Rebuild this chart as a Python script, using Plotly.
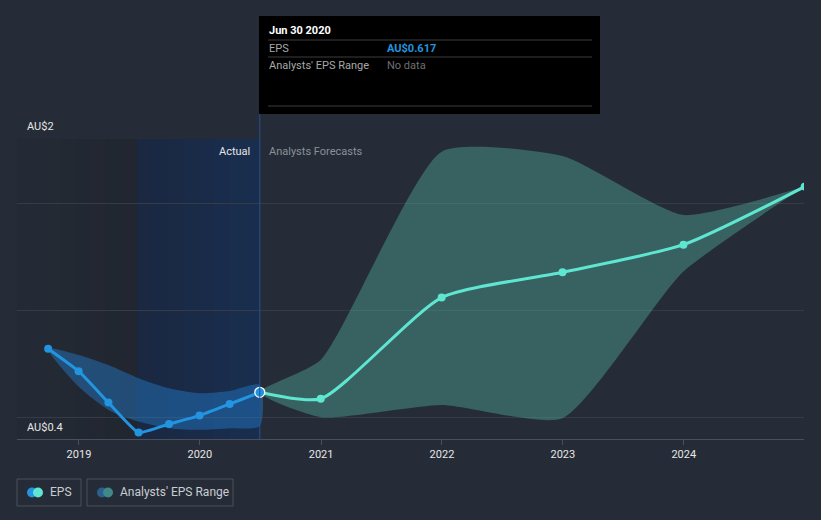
import plotly.graph_objects as go
import pandas as pd

# ---------------- data ----------------
hist_dates = ["2018-09-30", "2018-12-31", "2019-03-31", "2019-06-30",
              "2019-09-30", "2019-12-31", "2020-03-31", "2020-06-30"]
hist_eps = [0.855, 0.732, 0.561, 0.397, 0.444, 0.490, 0.553, 0.617]
hist_range_hi = [0.855, 0.821, 0.766, 0.694, 0.639, 0.612, 0.624, 0.657]
hist_range_lo = [0.855, 0.648, 0.521, 0.457, 0.421, 0.412, 0.421, 0.433]

fc_dates = ["2020-06-30", "2020-12-31", "2021-12-31", "2022-12-31",
            "2023-12-31", "2024-12-31"]
fc_eps = [0.617, 0.582, 1.134, 1.272, 1.423, 1.740]
fc_hi = [0.617, 0.794, 1.931, 1.907, 1.585, 1.740]
fc_lo = [0.617, 0.481, 0.548, 0.475, 1.276, 1.740]

x_ticks = ["2019-01-01", "2020-01-01", "2021-01-01", "2022-01-01",
           "2023-01-01", "2024-01-01"]
x_tick_labels = ["2019", "2020", "2021", "2022", "2023", "2024"]
grid_vals = [0.481, 1.063, 1.647, 2.0]
y_labels = ["AU$2", "AU$0.4"]

# ---------------- layout geometry ----------------
W, H = 821, 520
L, R, T, B = 17, 17, 139, 81
PW, PH = W - L - R, H - T - B
X_START, X_END = "2018-06-28", "2024-12-29"
Y_MIN, Y_MAX = 0.362, 2.0

BG = "#262c37"
BLUE = "#2394df"
MINT = "#5fe6d1"


def px(x):
    return (x - L) / PW


def py(y):
    return (H - B - y) / PH


fig = go.Figure()

# historical range band
fig.add_trace(go.Scatter(
    x=hist_dates + hist_dates[::-1],
    y=hist_range_hi + hist_range_lo[::-1],
    fill="toself", fillcolor="rgba(35,125,205,0.45)",
    line=dict(width=0, shape="spline", smoothing=0.7),
    mode="lines", hoverinfo="skip", showlegend=False))

# forecast range band
fig.add_trace(go.Scatter(
    x=fc_dates + fc_dates[::-1],
    y=fc_hi + fc_lo[::-1],
    fill="toself", fillcolor="rgba(88,190,175,0.36)",
    line=dict(width=0, shape="spline", smoothing=0.55),
    mode="lines", hoverinfo="skip", showlegend=False))

# forecast EPS line
fig.add_trace(go.Scatter(
    x=fc_dates, y=fc_eps, mode="lines+markers",
    line=dict(color=MINT, width=3, shape="spline", smoothing=0.6),
    marker=dict(color=MINT, size=8),
    showlegend=False))

# historical EPS line
fig.add_trace(go.Scatter(
    x=hist_dates, y=hist_eps, mode="lines+markers",
    line=dict(color=BLUE, width=3, shape="spline", smoothing=0.4),
    marker=dict(color=BLUE, size=8),
    showlegend=False))

# highlighted last actual point
fig.add_trace(go.Scatter(
    x=[hist_dates[-1]], y=[hist_eps[-1]], mode="markers",
    marker=dict(color=BLUE, size=10, line=dict(color="#ffffff", width=1.3)),
    showlegend=False))

shapes = []
d0 = pd.Timestamp(X_START)
d1 = pd.Timestamp("2019-06-25")
d2 = pd.Timestamp("2020-06-30")
n = 8
for i in range(n):
    a = d0 + (d1 - d0) * i / n
    b = d0 + (d1 - d0) * (i + 1) / n
    op = 0.02 + 0.15 * (i + 0.5) / n
    shapes.append(dict(type="rect", xref="x", yref="paper", x0=a, x1=b,
                       y0=0, y1=1, fillcolor=f"rgba(10,12,16,{op:.3f})",
                       line=dict(width=0), layer="below"))
for i in range(n):
    a = d1 + (d2 - d1) * i / n
    b = d1 + (d2 - d1) * (i + 1) / n
    t = (i + 0.5) / n
    r = int(27 - 2 * t)
    g = int(41 + 5 * t)
    bl = int(64 + 16 * t)
    shapes.append(dict(type="rect", xref="x", yref="paper", x0=a, x1=b,
                       y0=0, y1=1, fillcolor=f"rgb({r},{g},{bl})",
                       line=dict(width=0), layer="below"))
# now line
shapes.append(dict(type="line", xref="x", yref="paper", x0=d2, x1=d2,
                   y0=0, y1=py(16), line=dict(color="#24538f", width=1)))

# tooltip box
shapes.append(dict(type="rect", xref="paper", yref="paper",
                   x0=px(259), x1=px(600), y0=py(114), y1=py(16),
                   fillcolor="#000000", line=dict(width=0)))
for yy in (40, 57, 106):
    shapes.append(dict(type="line", xref="paper", yref="paper",
                       x0=px(268), x1=px(592), y0=py(yy), y1=py(yy),
                       line=dict(color="#3d3d3d", width=1)))


def box(x0, x1, y0, y1):
    return dict(type="rect", xref="paper", yref="paper",
                x0=px(x0), x1=px(x1), y0=py(y1), y1=py(y0),
                fillcolor="rgba(0,0,0,0)", line=dict(color="#4a505b", width=1))


def dot(cx, cy, r, color):
    return dict(type="circle", xref="paper", yref="paper",
                x0=px(cx - r), x1=px(cx + r), y0=py(cy + r), y1=py(cy - r),
                fillcolor=color, line=dict(width=0))


shapes.append(box(17, 81, 479, 506))
shapes.append(box(87, 233, 479, 506))
shapes.append(dot(32, 492.5, 5, BLUE))
shapes.append(dot(38, 492.5, 5, MINT))
shapes.append(dot(102, 492.5, 5, "#2a5f8f"))
shapes.append(dot(108, 492.5, 5, "#3f8986"))

FONT = "Roboto, Arial, sans-serif"


def ann(x, y, text, color, size=11, anchor="left"):
    return dict(x=px(x), y=py(y), xref="paper", yref="paper", text=text,
                showarrow=False, xanchor=anchor, yanchor="middle",
                font=dict(color=color, size=size, family=FONT))


annotations = [
    ann(25, 127, y_labels[0], "#e6e6e6"),
    ann(25, 427, y_labels[1], "#e6e6e6"),
    ann(252, 151, "Actual", "#e6e6e6", anchor="right"),
    ann(267, 151, "Analysts Forecasts", "#8b9099"),
    ann(267, 31, "<b>Jun 30 2020</b>", "#ffffff"),
    ann(267, 48, "EPS", "#a8a8a8"),
    ann(385, 48, "<b>AU$0.617</b>", BLUE),
    ann(267, 65, "Analysts' EPS Range", "#a8a8a8"),
    ann(385, 65, "No data", "#6f6f6f"),
    ann(48, 492.5, "EPS", "#c9ccd1", size=12),
    ann(118, 492.5, "Analysts' EPS Range", "#c9ccd1", size=12),
]

fig.update_layout(
    width=W, height=H,
    margin=dict(l=L, r=R, t=T, b=B),
    paper_bgcolor=BG, plot_bgcolor=BG,
    showlegend=False, hovermode=False,
    shapes=shapes, annotations=annotations,
    font=dict(family=FONT),
    xaxis=dict(type="date", range=[X_START, X_END],
               tickvals=x_ticks, ticktext=x_tick_labels,
               showgrid=False, zeroline=False,
               showline=True, linecolor="#4a505b", linewidth=1,
               ticks="outside", ticklen=5, tickcolor="#4a505b",
               tickfont=dict(color="#e6e6e6", size=11, family=FONT)),
    yaxis=dict(range=[Y_MIN, Y_MAX], tickvals=grid_vals,
               ticktext=["", "", "", ""], showgrid=True,
               gridcolor="#363c47", gridwidth=1, zeroline=False,
               showline=False, ticks=""),
)

fig.write_html("out.html")
